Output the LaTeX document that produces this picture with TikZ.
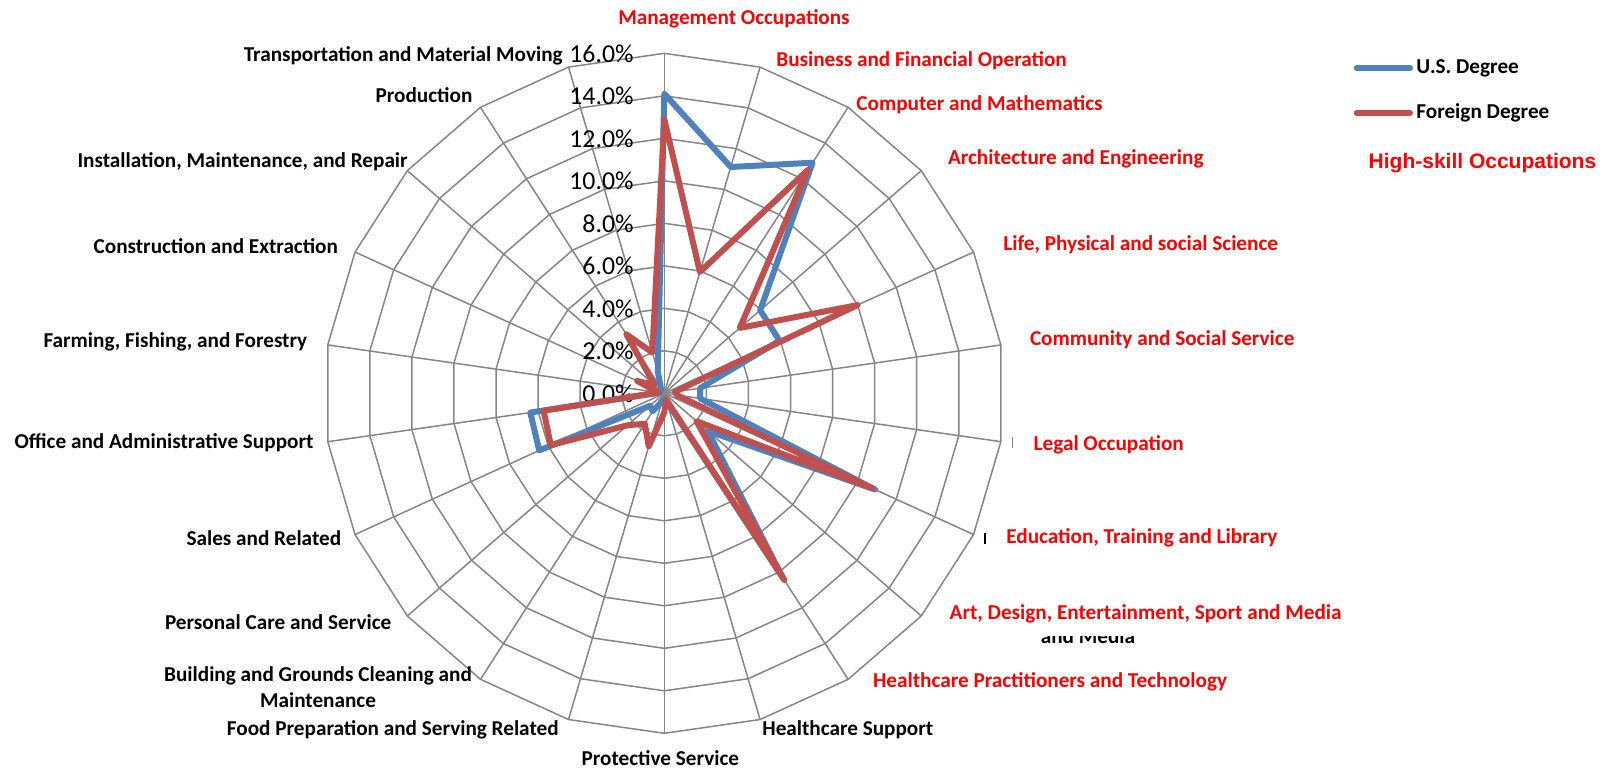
\documentclass[tikz,border=0pt]{standalone}
\usepackage{fontspec}
\setmainfont{Carlito}
\newfontfamily\arialfont{Liberation Sans}
\definecolor{gridgray}{RGB}{134,134,134}
\definecolor{usblue}{RGB}{79,129,189}
\definecolor{fgred}{RGB}{192,80,77}
\newcommand{\occfont}{\fontsize{10.6pt}{13.25pt}\selectfont\bfseries}
\newcommand{\pctfont}{\fontsize{12.9pt}{14pt}\selectfont}
\tikzset{
  gridline/.style={draw=gridgray, line width=0.75pt},
  usline/.style={draw=usblue, line width=3pt, line join=round},
  fgline/.style={draw=fgred, line width=3pt, line join=round},
  hilabel/.style={text=red, font=\occfont, inner sep=0pt},
  lolabel/.style={text=black, font=\occfont, inner sep=0pt},
  ticklabel/.style={font=\pctfont, inner sep=0pt, anchor=east},
}
\begin{document}
\begin{tikzpicture}[x=0.5pt, y=-0.5pt]
    \useasboundingbox (0,0) rectangle (1608,768);
    % Grid
    \coordinate (c) at (664.3,393.3);
    \foreach \i in {0,...,21}
        \coordinate (o\i) at ({664.3+340*sin(\i*360/22)},{393.3-340*cos(\i*360/22)});
    \foreach \k in {1,...,8}
        \draw[gridline] ({664.3},{393.3-42.5*\k}) \foreach \i in {1,...,21}{ -- ({664.3+42.5*\k*sin(\i*360/22)},{393.3-42.5*\k*cos(\i*360/22)})} -- cycle;
    \foreach \i in {0,...,21}
        \draw[gridline] (c) -- (o\i);

    % Tick labels
    \foreach \k/\t in {0/0.0,1/2.0,2/4.0,3/6.0,4/8.0,5/10.0,6/12.0,7/14.0,8/16.0}
        \node[ticklabel] (tick\k) at (634,{393.3-42.5*\k}) {\t\%};

    % Series
    \foreach \v [count=\i from 0] in {14.1,11.1,12.9,5.97,5.96,1.7,1.7,10.9,2.7,10.25,0.4,0.3,0.4,1.0,0.9,6.47,6.37,0.2,0.3,0.2,0.3,1.1}
        \coordinate (us\i) at ({664.3+21.25*\v*sin(\i*360/22)},{393.3-21.25*\v*cos(\i*360/22)});
    \foreach \v [count=\i from 0] in {12.9,5.95,12.5,4.7,10.0,0.5,0.6,10.75,2.0,10.45,0.3,0.9,2.6,1.7,2.3,5.87,5.74,0.3,1.4,0.6,3.3,2.0}
        \coordinate (fg\i) at ({664.3+21.25*\v*sin(\i*360/22)},{393.3-21.25*\v*cos(\i*360/22)});
    \draw[usline] (us0) \foreach \i in {1,...,21}{ -- (us\i)} -- cycle;
    \draw[fgline] (fg0) \foreach \i in {1,...,21}{ -- (fg\i)} -- cycle;

    % Category labels
    \node[hilabel] (mgmt) at (734,18.5) {Management Occupations};
    \node[hilabel, anchor=west] (bus) at (776,60.5) {Business and Financial Operation};
    \node[hilabel, anchor=west] (comp) at (856,104.6) {Computer and Mathematics};
    \node[hilabel, anchor=west] (arch) at (947.6,159) {Architecture and Engineering};
    \node[hilabel, anchor=west] (life) at (1003,245) {Life, Physical and social Science};
    \node[hilabel, anchor=west] (comm) at (1029.6,339.5) {Community and Social Service};
    \node[hilabel, anchor=west] (legal) at (1033.3,445) {Legal Occupation};
    \node[hilabel, anchor=west] (edu) at (1006,538.3) {Education, Training and Library};
    \begin{scope}
        \clip (1030,636) rectangle (1150,644);
        \node[lolabel, anchor=base] (media) at (1088,643) {and Media};
    \end{scope}
    \node[hilabel, anchor=west] (art) at (949.3,614.3) {Art, Design, Entertainment, Sport and Media};
    \node[hilabel, anchor=west] (hprac) at (872.7,682) {Healthcare Practitioners and Technology};
    \node[lolabel, anchor=west] (hsup) at (762,730) {Healthcare Support};
    \node[lolabel] (prot) at (660.4,758) {Protective Service};
    \node[lolabel, anchor=east] (food) at (559,730) {Food Preparation and Serving Related};
    \node[lolabel, align=center] (bldg) at (318,687) {Building and Grounds Cleaning and\\Maintenance};
    \node[lolabel, anchor=east] (pers) at (391.7,622.5) {Personal Care and Service};
    \node[lolabel, anchor=east] (sales) at (341.5,538.4) {Sales and Related};
    \node[lolabel, anchor=east] (office) at (313.8,443) {Office and Administrative Support};
    \node[lolabel, anchor=east] (farm) at (307.6,341.5) {Farming, Fishing, and Forestry};
    \node[lolabel, anchor=east] (constr) at (338.4,246) {Construction and Extraction};
    \node[lolabel, anchor=east] (inst) at (408,162) {Installation, Maintenance, and Repair};
    \node[lolabel, anchor=east] (prod) at (472.8,95.4) {Production};
    \node[lolabel, anchor=east] (trans) at (563,55.4) {Transportation and Material Moving};

    % small marks
    \draw[gridgray, line width=0.6pt] (1012.7,437) -- (1012.7,448);
    \draw[black, line width=0.8pt] (985,533) -- (985,544);

    % Legend
    \coordinate (usa) at (1356.7,68.3);
    \coordinate (usb) at (1410,68.3);
    \coordinate (fga) at (1356.7,112.7);
    \coordinate (fgb) at (1410,112.7);
    \draw[usline, line cap=round] (usa) -- (usb);
    \draw[fgline, line cap=round] (fga) -- (fgb);
    \node[lolabel, anchor=west] (uskey) at (1416,68.3) {U.S. Degree};
    \node[lolabel, anchor=west] (fgkey) at (1416,112.7) {Foreign Degree};
    \node[text=red, inner sep=0pt, anchor=west, font=\arialfont\fontsize{10.5pt}{12pt}\selectfont\bfseries] (hiskill) at (1368.3,163.3) {High-skill Occupations};
\end{tikzpicture}
\end{document}
